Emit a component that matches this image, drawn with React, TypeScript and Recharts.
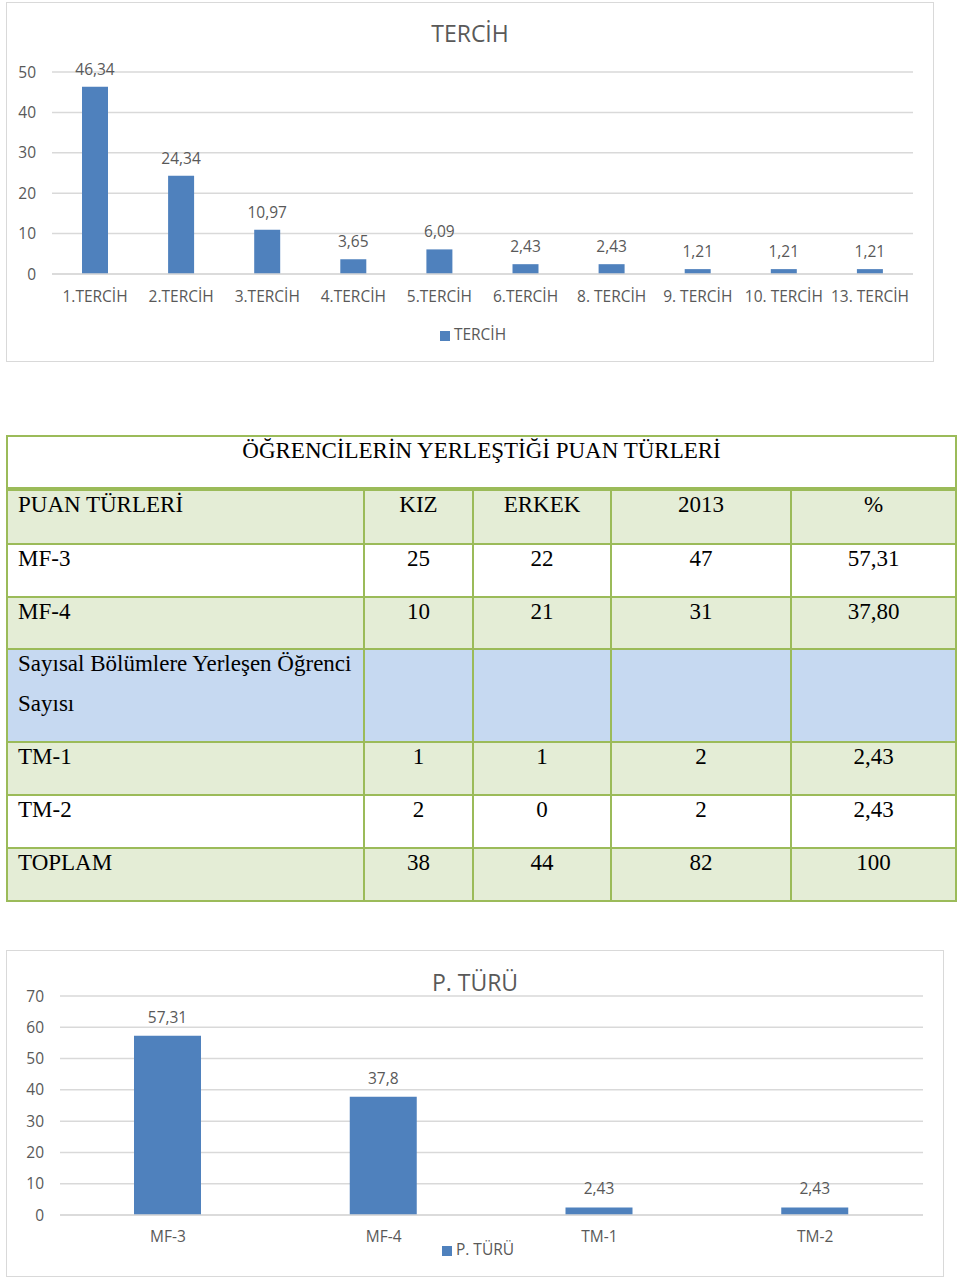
import React from 'react';
import { BarChart, Bar, XAxis, YAxis, CartesianGrid, Legend, LabelList } from 'recharts';

const tercihCategories = ['1.TERCİH', '2.TERCİH', '3.TERCİH', '4.TERCİH', '5.TERCİH', '6.TERCİH', '8. TERCİH', '9. TERCİH', '10. TERCİH', '13. TERCİH'];
const tercihValues = [46.34, 24.34, 10.97, 3.65, 6.09, 2.43, 2.43, 1.21, 1.21, 1.21];
const tercihTicks = [0, 10, 20, 30, 40, 50];

const ptCategories = ['MF-3', 'MF-4', 'TM-1', 'TM-2'];
const ptValues = [57.31, 37.8, 2.43, 2.43];
const ptTicks = [0, 10, 20, 30, 40, 50, 60, 70];

const tableTitle = 'ÖĞRENCİLERİN YERLEŞTİĞİ PUAN TÜRLERİ';
const tableHeader = ['PUAN TÜRLERİ', 'KIZ', 'ERKEK', '2013', '%'];
const tableRowLabels = ['MF-3', 'MF-4', 'Sayısal Bölümlere Yerleşen Öğrenci Sayısı', 'TM-1', 'TM-2', 'TOPLAM'];
const tableKiz = ['25', '10', '', '1', '2', '38'];
const tableErkek = ['22', '21', '', '1', '0', '44'];
const table2013 = ['47', '31', '', '2', '2', '82'];
const tablePct = ['57,31', '37,80', '', '2,43', '2,43', '100'];

const BLUE = '#4F81BD';
const GRID = '#d9d9d9';
const TXT = '#595959';
const FONT = '"Open Sans", sans-serif';
const FS = 15.5;
const GREEN_BG = '#e4edd6';
const BLUE_BG = '#c6d9f1';
const BORDER = '#9bbb59';

const fmt = (v: any) => String(v).replace('.', ',');

const tercihData = tercihCategories.map((c, i) => ({ name: c, TERCİH: tercihValues[i] }));
const ptData = ptCategories.map((c, i) => ({ name: c, 'P. TÜRÜ': ptValues[i] }));

const legendFmt = (v: any) => <span style={{ color: TXT }}>{v}</span>;

function TercihChart() {
  return (
    <div style={{ position: 'absolute', left: 6, top: 2, width: 928, height: 360, border: `1px solid ${GRID}`, boxSizing: 'border-box', background: '#fff' }}>
      <div style={{ position: 'absolute', left: 0, width: '100%', top: 15, textAlign: 'center', fontFamily: FONT, fontSize: 23, color: TXT, lineHeight: '30px' }}>TERCİH</div>
      <BarChart width={926} height={358} data={tercihData} margin={{ top: 69, right: 20, left: 0, bottom: 55 }} barSize={26}>
        <CartesianGrid vertical={false} stroke={GRID} strokeWidth={1.5} />
        <XAxis dataKey="name" axisLine={{ stroke: GRID, strokeWidth: 1.5 }} tickLine={false} tickMargin={11} height={32} interval={0}
          tick={{ fill: TXT, fontSize: FS, fontFamily: FONT }} />
        <YAxis width={45} domain={[0, 50]} ticks={tercihTicks} axisLine={false} tickLine={false} tickMargin={10}
          tick={{ fill: TXT, fontSize: FS, fontFamily: FONT }} />
        <Legend verticalAlign="middle" align="center" iconType="square" iconSize={10} formatter={legendFmt}
          wrapperStyle={{ top: 320, left: 8, width: 926, fontSize: FS, fontFamily: FONT }} />
        <Bar dataKey="TERCİH" fill={BLUE} isAnimationActive={false}>
          <LabelList dataKey="TERCİH" position="top" offset={12} formatter={fmt} fill={TXT} fontSize={FS} fontFamily={FONT} />
        </Bar>
      </BarChart>
    </div>
  );
}

function PTChart() {
  return (
    <div style={{ position: 'absolute', left: 6, top: 950, width: 938, height: 327, border: `1px solid ${GRID}`, boxSizing: 'border-box', background: '#fff' }}>
      <div style={{ position: 'absolute', left: 0, width: '100%', top: 16, textAlign: 'center', fontFamily: FONT, fontSize: 23, color: TXT, lineHeight: '30px' }}>P. TÜRÜ</div>
      <BarChart width={936} height={325} data={ptData} margin={{ top: 45, right: 20, left: 0, bottom: 29 }} barSize={67}>
        <CartesianGrid vertical={false} stroke={GRID} strokeWidth={1.5} />
        <XAxis dataKey="name" axisLine={{ stroke: GRID, strokeWidth: 1.5 }} tickLine={false} tickMargin={10} height={32} interval={0}
          tick={{ fill: TXT, fontSize: FS, fontFamily: FONT }} />
        <YAxis width={53} domain={[0, 70]} ticks={ptTicks} axisLine={false} tickLine={false} tickMargin={10}
          tick={{ fill: TXT, fontSize: FS, fontFamily: FONT }} />
        <Legend verticalAlign="middle" align="center" iconType="square" iconSize={10} formatter={legendFmt}
          wrapperStyle={{ top: 287, left: 8, width: 936, fontSize: FS, fontFamily: FONT }} />
        <Bar dataKey="P. TÜRÜ" fill={BLUE} isAnimationActive={false}>
          <LabelList dataKey="P. TÜRÜ" position="top" offset={13} formatter={fmt} fill={TXT} fontSize={FS} fontFamily={FONT} />
        </Bar>
      </BarChart>
    </div>
  );
}

function Table() {
  const colW = [357, 109, 138, 180, 165];
  const rowBg = ['#ffffff', GREEN_BG, BLUE_BG, GREEN_BG, '#ffffff', GREEN_BG];
  const rowH = [53, 52, 93, 53, 53, 53];
  const cell: React.CSSProperties = {
    border: `2px solid ${BORDER}`,
    padding: '1px 10px 0 10px',
    verticalAlign: 'top',
    fontFamily: '"Liberation Serif", "Times New Roman", serif',
    fontSize: 23,
    lineHeight: '26px',
    color: '#000',
    boxSizing: 'border-box',
  };
  return (
    <table style={{ position: 'absolute', left: 6, top: 435, width: 949, borderCollapse: 'collapse', tableLayout: 'fixed' }}>
      <colgroup>
        {colW.map((w, i) => <col key={i} style={{ width: w }} />)}
      </colgroup>
      <tbody>
        <tr style={{ height: 53 }}>
          <td colSpan={5} style={{ ...cell, textAlign: 'center', background: '#fff', borderBottom: `4px solid ${BORDER}` }}>{tableTitle}</td>
        </tr>
        <tr style={{ height: 55, background: GREEN_BG }}>
          {tableHeader.map((h, i) => (
            <td key={i} style={{ ...cell, textAlign: i === 0 ? 'left' : 'center' }}>{h}</td>
          ))}
        </tr>
        {tableRowLabels.map((lab, r) => {
          const big = r === 2;
          const c2: React.CSSProperties = big ? { ...cell, lineHeight: '40px', paddingTop: 0 } : cell;
          return (
            <tr key={r} style={{ height: rowH[r], background: rowBg[r] }}>
              <td style={{ ...c2, textAlign: 'left' }}>
                {big ? <div style={{ position: 'relative', top: -6 }}>{lab}</div> : lab}
              </td>
              <td style={{ ...c2, textAlign: 'center' }}>{tableKiz[r]}</td>
              <td style={{ ...c2, textAlign: 'center' }}>{tableErkek[r]}</td>
              <td style={{ ...c2, textAlign: 'center' }}>{table2013[r]}</td>
              <td style={{ ...c2, textAlign: 'center' }}>{tablePct[r]}</td>
            </tr>
          );
        })}
      </tbody>
    </table>
  );
}

export default function App() {
  return (
    <div style={{ position: 'absolute', left: 0, top: 0, width: 960, height: 1278, background: '#fff', overflow: 'hidden' }}>
      <TercihChart />
      <Table />
      <PTChart />
    </div>
  );
}
